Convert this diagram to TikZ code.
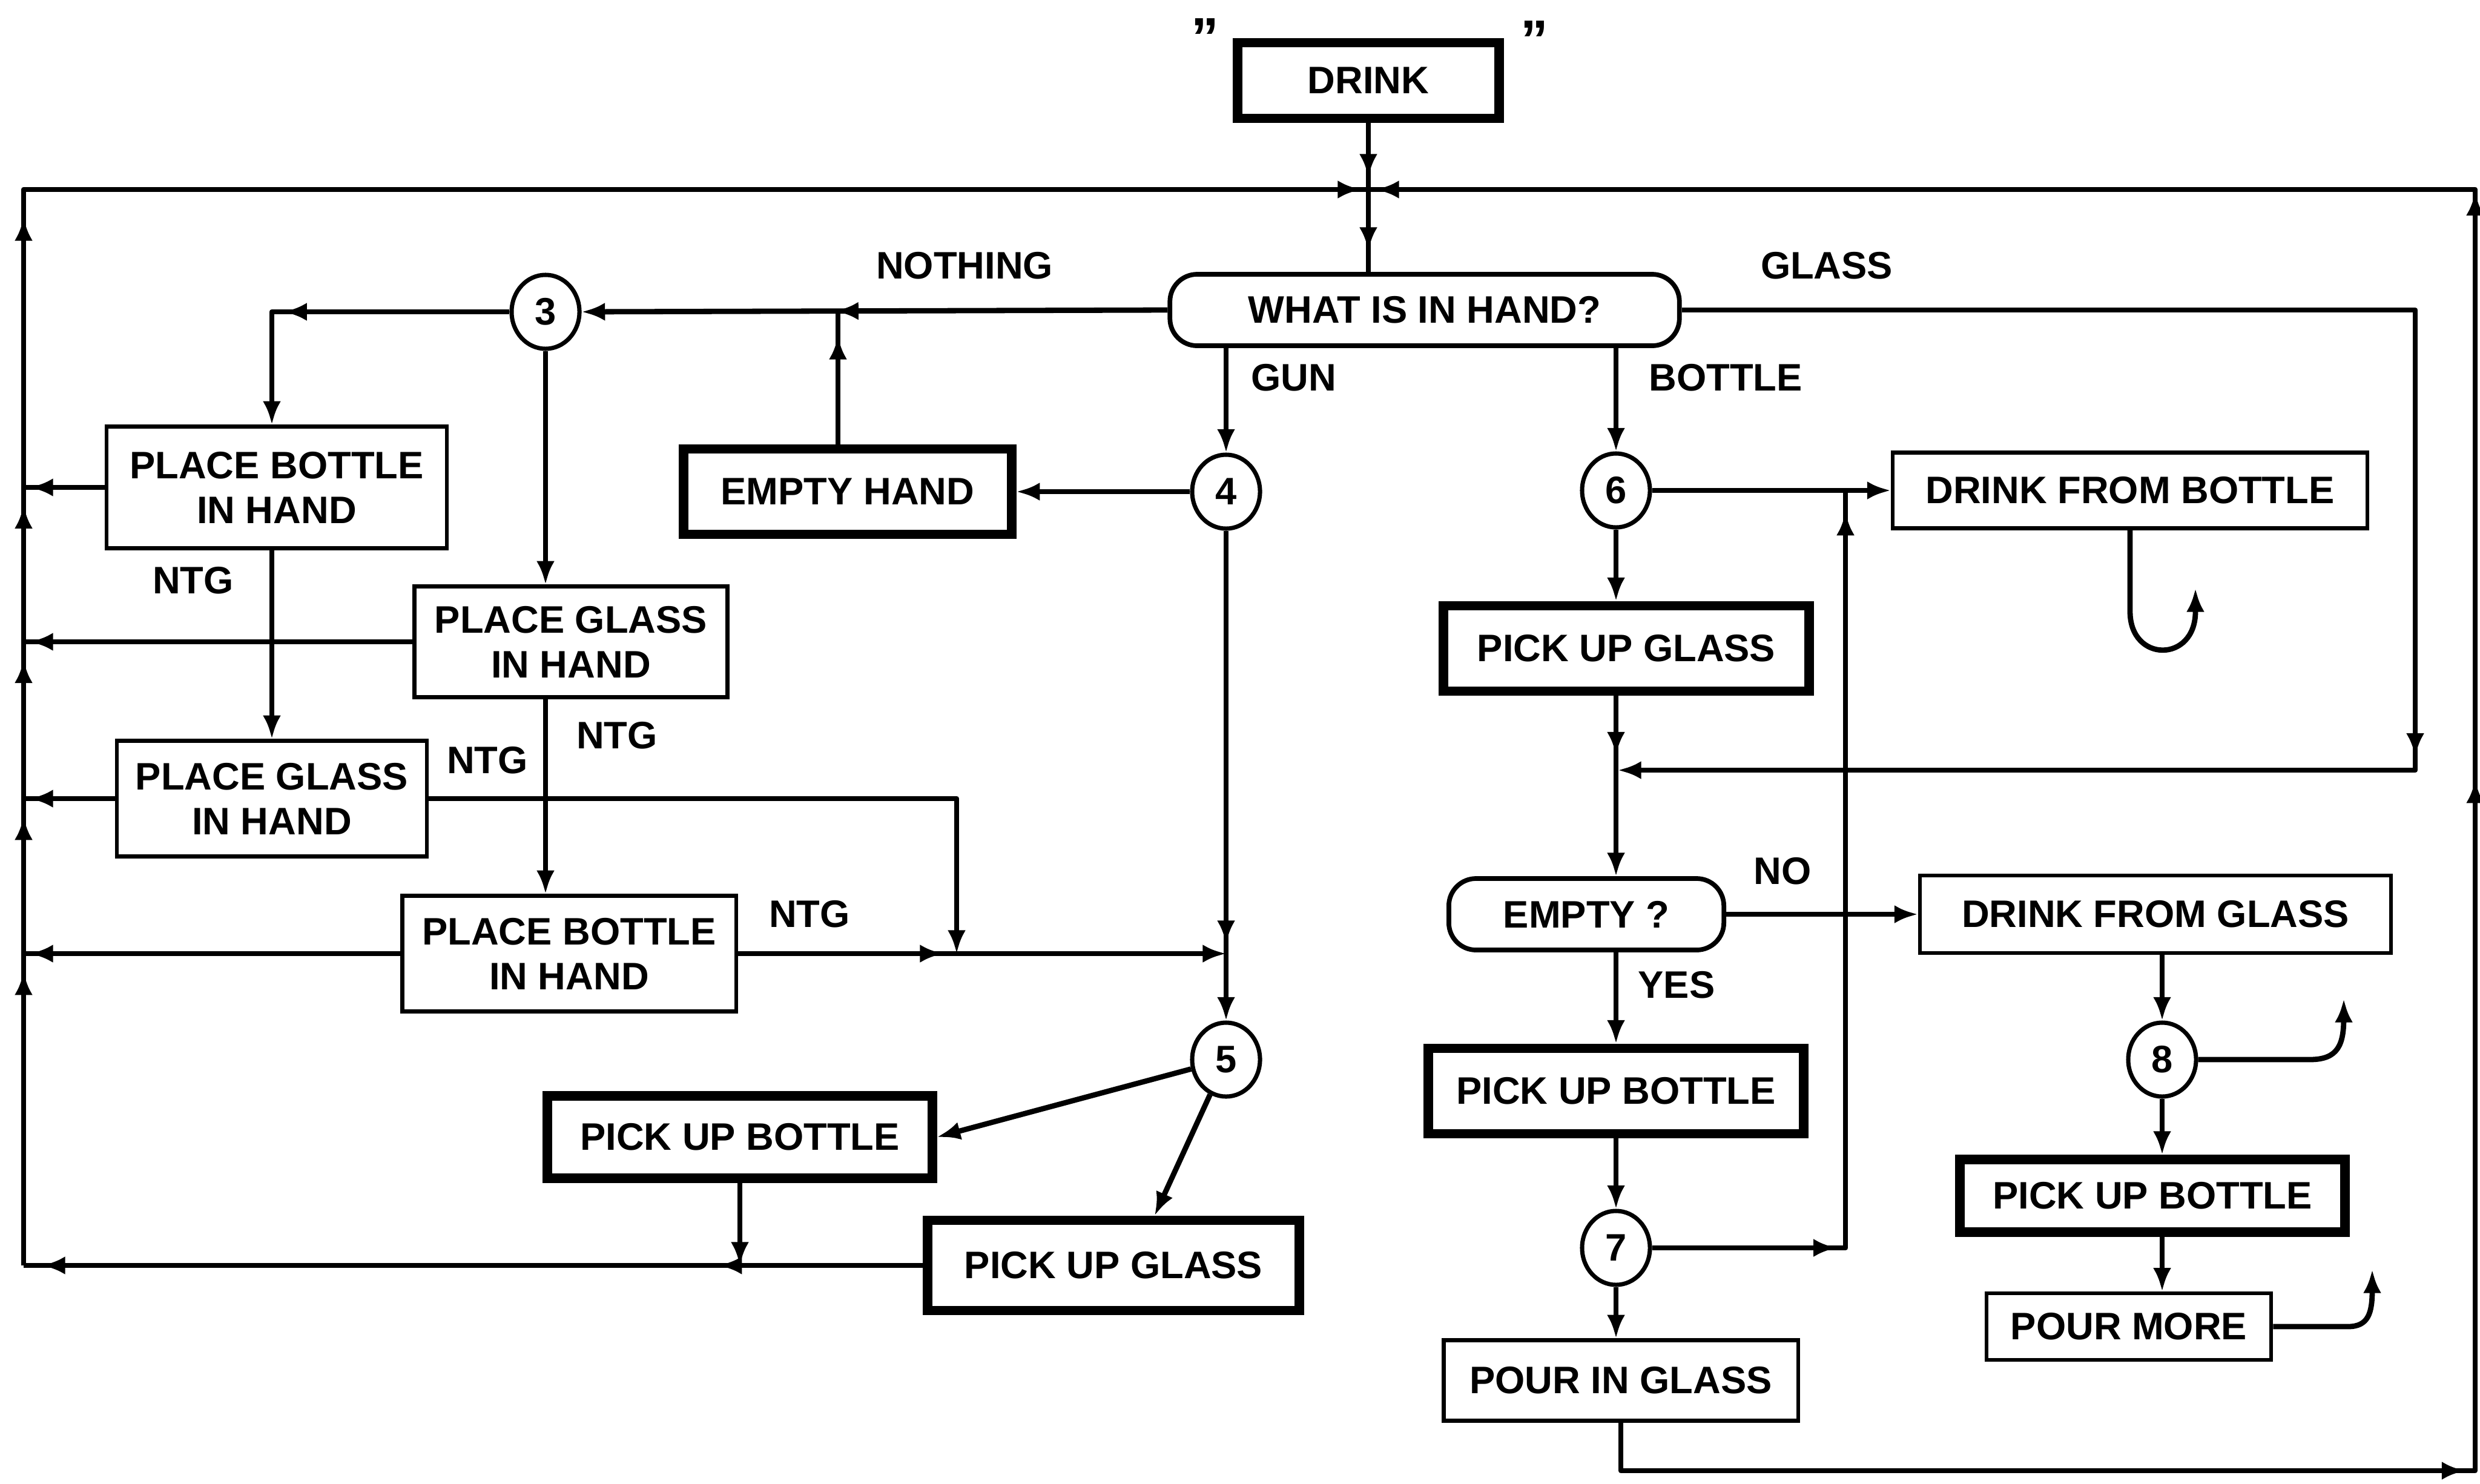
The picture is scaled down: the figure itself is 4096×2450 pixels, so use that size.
\documentclass[tikz,border=0pt]{standalone}
\usepackage{fontspec}
\setmainfont{Liberation Sans}
\usetikzlibrary{arrows.meta,decorations.markings,shapes.geometric}
\begin{document}
\begin{tikzpicture}[x=0.01cm,y=-0.01cm,
  every node/.style={font=\fontsize{18}{21}\selectfont\bfseries},
  sz/.style 2 args={minimum width=#1,minimum height=#2},
  bx/.style={draw,line width=1.8pt,rectangle,align=center,inner sep=0pt},
  tbx/.style={draw,line width=4.5pt,rectangle,align=center,inner sep=0pt},
  dec/.style={draw,line width=2.2pt,rectangle,rounded corners=0.45cm,align=center,inner sep=0pt},
  cn/.style={draw,line width=2pt,ellipse,minimum width=1.12cm,minimum height=1.22cm,inner sep=0pt},
  flow/.style={line width=2.5pt,line join=round},
  arr/.style={postaction={decorate,decoration={markings,mark=at position #1 with {\arrow{Latex[length=11pt,width=8.5pt]}}}}},
  tipend/.style={-{Latex[length=11pt,width=8.5pt]}},
  lbl/.style={inner sep=0pt}
]
\fill[white] (0,0) rectangle (4096,2450);
\useasboundingbox (0,0) rectangle (4096,2450);

% nodes
\node[tbx,sz={4.31cm}{1.25cm}] (drink) at (2260,133) {DRINK};
\node[lbl,font=\fontsize{26}{26}\selectfont\bfseries] (q1) at (1990,62) {"};
\node[lbl,font=\fontsize{26}{26}\selectfont\bfseries] (q2) at (2534,66) {"};
\node[dec,sz={8.41cm}{1.18cm}] (what) at (2353,512) {WHAT IS IN HAND?};
\node[cn] (c3) at (901,515) {3};
\node[bx,sz={5.62cm}{2.01cm}] (pb1) at (457,805) {PLACE BOTTLE\\IN HAND};
\node[bx,sz={5.17cm}{1.83cm}] (pg2) at (943,1060) {PLACE GLASS\\IN HAND};
\node[bx,sz={5.12cm}{1.91cm}] (pg3) at (449,1319) {PLACE GLASS\\IN HAND};
\node[bx,sz={5.51cm}{1.91cm}] (pb4) at (940,1575) {PLACE BOTTLE\\IN HAND};
\node[tbx,sz={5.41cm}{1.41cm}] (eh) at (1400,812) {EMPTY HAND};
\node[cn] (c4) at (2025,812) {4};
\node[cn] (c5) at (2025,1750) {5};
\node[tbx,sz={6.35cm}{1.36cm}] (pubL) at (1222,1878) {PICK UP BOTTLE};
\node[tbx,sz={6.14cm}{1.49cm}] (pugL) at (1839,2090) {PICK UP GLASS};
\node[cn] (c6) at (2669,810) {6};
\node[bx,sz={7.84cm}{1.25cm}] (dfb) at (3518,810) {DRINK FROM BOTTLE};
\node[tbx,sz={6.03cm}{1.41cm}] (pugR) at (2686,1071) {PICK UP GLASS};
\node[dec,sz={4.54cm}{1.18cm}] (empty) at (2620,1510) {EMPTY ?};
\node[bx,sz={7.78cm}{1.28cm}] (dfg) at (3560,1510) {DRINK FROM GLASS};
\node[cn] (c8) at (3571,1750) {8};
\node[tbx,sz={6.35cm}{1.20cm}] (pubR) at (3555,1975) {PICK UP BOTTLE};
\node[bx,sz={4.70cm}{1.10cm}] (pm) at (3516,2191) {POUR MORE};
\node[tbx,sz={6.19cm}{1.41cm}] (pubM) at (2669,1802) {PICK UP BOTTLE};
\node[cn] (c7) at (2669,2061) {7};
\node[bx,sz={5.85cm}{1.33cm}] (pig) at (2677,2280) {POUR IN GLASS};

% labels
\node[lbl] (lnothing) at (1593,439) {NOTHING};
\node[lbl] (lglass) at (3017,439) {GLASS};
\node[lbl] (lgun) at (2137,624) {GUN};
\node[lbl] (lbottle) at (2850,624) {BOTTLE};
\node[lbl] (ln1) at (319,959) {NTG};
\node[lbl] (ln2) at (805,1256) {NTG};
\node[lbl] (ln3) at (1019,1215) {NTG};
\node[lbl] (ln4) at (1337,1510) {NTG};
\node[lbl] (lno) at (2944,1439) {NO};
\node[lbl] (lyes) at (2769,1627) {YES};

% coordinates
\coordinate (J) at (2260,313);
\coordinate (LT) at (39,313);
\coordinate (LB) at (39,2090);
\coordinate (RT) at (4088,313);
\coordinate (RB) at (4088,2429);
\coordinate (ehj) at (1384,515);
\coordinate (k1) at (449,515);
\coordinate (k2) at (1580,1319);
\coordinate (k3) at (3571,0);
\coordinate (g1) at (3989,512);
\coordinate (g2) at (3989,1272);
\coordinate (g3) at (2672,1272);
\coordinate (s1) at (3048,2061);
\coordinate (s2) at (3048,810);

% main loop
\draw[flow,arr=-0.2cm] (drink) -- (J);
\draw[flow,arr=-0.35cm] (J) -- (J |- what.north);
\draw[flow,arr=4.85cm,arr=7.41cm,arr=10cm,arr=12.55cm,arr=17.3cm,arr=-0.12cm] (LB) -- (LT) -- (J);
\draw[flow,arr=14.73cm,arr=26.3cm,arr=36cm,arr=-0.12cm] (pig.south) -- (pig.south |- RB) -- (RB) -- (RT) -- (J);

% returns to left bus
\draw[flow,arr=-0.1cm] (pb1.west) -- (pb1.west -| LT);
\draw[flow,arr=-0.1cm] (pg2.west) -- (pg2.west -| LT);
\draw[flow,arr=-0.1cm] (pg3.west) -- (pg3.west -| LT);
\draw[flow,arr=-0.1cm] (pb4.west) -- (pb4.west -| LT);
\draw[flow,arr=3.37cm,arr=-0.3cm] (pugL.west) -- (pugL.west -| LB);

% left part
\draw[flow,arr=5.49cm,tipend] (what.west) -- (c3.east);
\draw[flow,arr=-0.4cm] (eh.north -| ehj) -- (ehj);
\draw[flow,arr=3.73cm,tipend] (c3.west) -- (k1) -- (k1 |- pb1.north);
\draw[flow,tipend] (c3.south) -- (c3.south |- pg2.north);
\draw[flow,tipend] (k1 |- pb1.south) -- (k1 |- pg3.north);
\draw[flow,tipend] (c3.south |- pg2.south) -- (c3.south |- pb4.north);
\draw[flow,tipend] (pg3.east) -- (k2) -- (k2 |- pb4.east);
\draw[flow,arr=3.39cm,tipend] (pb4.east) -- (pb4.east -| c5.north);
\draw[flow,tipend] (c4.north |- what.south) -- (c4.north);
\draw[flow,tipend] (c4.west) -- (eh.east);
\draw[flow,arr=6.82cm,tipend] (c4.south) -- (c5.north);
\draw[flow,tipend] (c5) -- (pubL.east);
\draw[flow,tipend] (c5) -- ([xshift=0.68cm]pugL.north);
\draw[flow,tipend] (pubL.south) -- (pubL.south |- pugL.west);

% right part
\draw[flow,arr=19.48cm,tipend] (what.east) -- (g1) -- (g2) -- (g3);
\draw[flow,tipend] (c6.north |- what.south) -- (c6.north);
\draw[flow,tipend] (c6.east) -- (dfb.west);
\draw[flow,tipend] (c6.south) -- (c6.south |- pugR.north);
\draw[flow,arr=0.98cm,tipend] (c6.south |- pugR.south) -- (c6.south |- empty.north);
\draw[flow,tipend] (empty.east) -- (dfg.west);
\draw[flow,tipend] (c6.south |- empty.south) -- (pubM.north);
\draw[flow,tipend] (pubM.south) -- (c7.north);
\draw[flow,tipend] (c7.south) -- (c7.south |- pig.north);
\draw[flow,arr=3.05cm,arr=15.34cm] (c7.east) -- (s1) -- (s2);
\draw[flow,tipend] (k3 |- dfg.south) -- (c8.north);
\draw[flow,tipend] (c8.south) -- (k3 |- pubR.north);
\draw[flow,tipend] (k3 |- pubR.south) -- (k3 |- pm.north);

% hooks
\draw[flow,tipend] (dfb.south) -- (3518,1010) .. controls (3518,1095) and (3626,1095) .. (3626,1010) -- (3626,972);
\draw[flow,tipend] (c8.east) -- (3815,1750) .. controls (3862,1750) and (3871,1725) .. (3871,1680) -- (3871,1650);
\draw[flow,tipend] (pm.east) -- (3878,2191) .. controls (3912,2191) and (3918,2168) .. (3918,2130) -- (3918,2097);
\end{tikzpicture}
\end{document}
